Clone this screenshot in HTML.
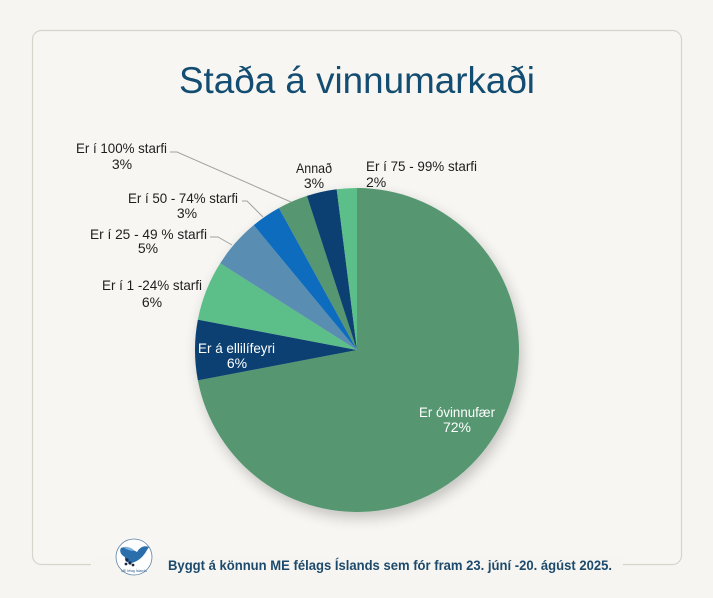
<!DOCTYPE html>
<html>
<head>
<meta charset="utf-8">
<style>
  html,body{margin:0;padding:0;background:#f6f5f1;}
  svg{display:block;}
  text{font-family:"Liberation Sans",sans-serif;}
</style>
</head>
<body>
<svg width="713" height="598" viewBox="0 0 713 598" xmlns="http://www.w3.org/2000/svg">
  <defs>
    <filter id="sh" x="-20%" y="-20%" width="140%" height="140%">
      <feGaussianBlur in="SourceAlpha" stdDeviation="7"/>
      <feOffset dx="3" dy="6" result="b"/>
      <feComponentTransfer><feFuncA type="linear" slope="0.22"/></feComponentTransfer>
      <feMerge><feMergeNode/><feMergeNode in="SourceGraphic"/></feMerge>
    </filter>
  </defs>
  <rect x="0" y="0" width="713" height="598" fill="#f6f5f1"/>
  <!-- card -->
  <rect x="32.5" y="30.5" width="649" height="534" rx="9" ry="9" fill="#f7f6f2" stroke="#d7d4cc" stroke-width="1.2"/>
  <rect x="91" y="558" width="532" height="12" fill="#f6f5f1"/>

  <!-- title -->
  <text x="179" y="93" font-size="37" fill="#134d71" textLength="356" lengthAdjust="spacingAndGlyphs">Staða á vinnumarkaði</text>

  <!-- pie -->
  <g filter="url(#sh)">
    <path d="M357,350 L357,188 A162,162 0 1,1 197.87,380.36 Z" fill="#56966f"/>
    <path d="M357,350 L197.87,380.36 A162,162 0 0,1 197.87,319.64 Z" fill="#0d3f72"/>
    <path d="M357,350 L197.87,319.64 A162,162 0 0,1 220.22,263.20 Z" fill="#5cbe88"/>
    <path d="M357,350 L220.22,263.20 A162,162 0 0,1 253.74,225.18 Z" fill="#5a8db2"/>
    <path d="M357,350 L253.74,225.18 A162,162 0 0,1 278.96,208.04 Z" fill="#0f6cbd"/>
    <path d="M357,350 L278.96,208.04 A162,162 0 0,1 306.94,195.93 Z" fill="#56966f"/>
    <path d="M357,350 L306.94,195.93 A162,162 0 0,1 336.70,189.28 Z" fill="#0d3f72"/>
    <path d="M357,350 L336.70,189.28 A162,162 0 0,1 357,188 Z" fill="#5cbe88"/>
  </g>

  <!-- leader lines -->
  <g stroke="#a3a3a3" stroke-width="1" fill="none">
    <polyline points="170,152 177,152 291,202"/>
    <polyline points="242,201 247,201 263,217"/>
    <polyline points="210,237 218,237 232,245"/>
  </g>

  <!-- labels -->
  <g font-size="14" fill="#1e1e1e">
    <text x="76" y="153" textLength="91" lengthAdjust="spacingAndGlyphs">Er í 100% starfi</text>
    <text x="122" y="169" text-anchor="middle">3%</text>

    <text x="128" y="203" textLength="110" lengthAdjust="spacingAndGlyphs">Er í 50 - 74% starfi</text>
    <text x="187" y="218" text-anchor="middle">3%</text>

    <text x="90" y="239" textLength="117" lengthAdjust="spacingAndGlyphs">Er í 25 - 49 % starfi</text>
    <text x="148" y="253" text-anchor="middle">5%</text>

    <text x="102" y="290" textLength="100" lengthAdjust="spacingAndGlyphs">Er í 1 -24% starfi</text>
    <text x="152" y="307" text-anchor="middle">6%</text>

    <text x="296" y="173" textLength="36" lengthAdjust="spacingAndGlyphs">Annað</text>
    <text x="314" y="188" text-anchor="middle">3%</text>

    <text x="366" y="171" textLength="111" lengthAdjust="spacingAndGlyphs">Er í 75 - 99% starfi</text>
    <text x="366" y="187">2%</text>
  </g>
  <g font-size="14" fill="#ffffff">
    <text x="198" y="353" textLength="77" lengthAdjust="spacingAndGlyphs">Er á ellilífeyri</text>
    <text x="237" y="368" text-anchor="middle">6%</text>
    <text x="419" y="417" textLength="76" lengthAdjust="spacingAndGlyphs">Er óvinnufær</text>
    <text x="457" y="432" text-anchor="middle">72%</text>
  </g>

  <!-- footer logo -->
  <circle cx="134" cy="557" r="18" fill="#ffffff" stroke="#5a82a8" stroke-width="0.8"/>
  <path d="M121,548 C127,545 133,550 137,552 C140,547 144,545 149,547 L147,550 C144,556 138,562 131,563 C127,563 124,560 125,557 C121,555 119,551 121,548 Z" fill="#2a6fab"/>
  <path d="M123,547 C128,546 132,548 135,551 C131,551 127,550 123,547 Z" fill="#7fb3dc"/>
  <circle cx="127" cy="560" r="1.6" fill="#1a2a45"/>
  <circle cx="130" cy="563" r="1.6" fill="#1a2a45"/>
  <circle cx="126" cy="564" r="1.4" fill="#1a2a45"/>
  <circle cx="133" cy="565" r="1.4" fill="#1a2a45"/>
  <text x="134" y="572" font-size="3.5" fill="#2f5f8c" text-anchor="middle">ME félag Íslands</text>

  <!-- footer text -->
  <text x="168" y="570" font-size="14" font-weight="bold" fill="#1d4a6c" textLength="444" lengthAdjust="spacingAndGlyphs">Byggt á könnun ME félags Íslands sem fór fram 23. júní -20. ágúst 2025.</text>
</svg>
</body>
</html>
